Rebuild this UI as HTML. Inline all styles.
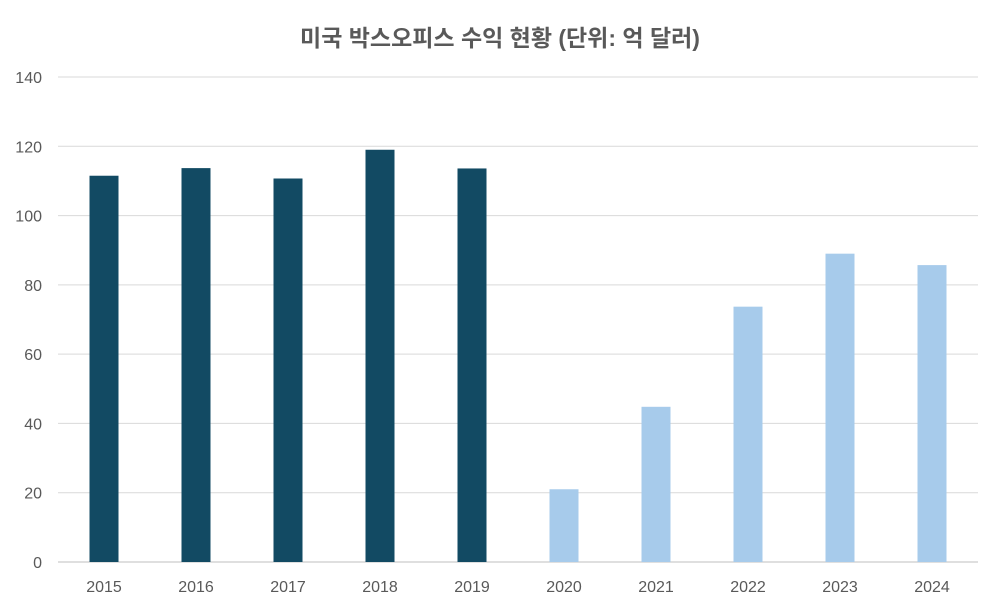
<!DOCTYPE html>
<html><head><meta charset="utf-8"><style>
body{margin:0;background:#fff;}
svg text{font-family:"Liberation Sans","Noto Sans CJK KR",sans-serif;}
</style></head><body>
<svg width="1000" height="610" id="chart">
<text x="500" y="46" text-anchor="middle" font-size="23" font-weight="bold" fill="#595959">미국 박스오피스 수익 현황 (단위: 억 달러)</text>
<g id="grid"></g><g id="bars"></g><g id="labels"></g>
</svg>
<script>
const categories=["2015","2016","2017","2018","2019","2020","2021","2022","2023","2024"];
const revenue=[111.5,113.7,110.7,119,113.6,21,44.8,73.7,89,85.7];
const yTicks=[0,20,40,60,80,100,120,140];
const ns="http://www.w3.org/2000/svg";
const L=58,R=978,T=77,B=562,ymax=140;
const y=v=>B-(v/ymax)*(B-T);
const step=(R-L)/categories.length;
const x=i=>L+step*(i+0.5);
const svg=document.getElementById('chart');
const g=document.getElementById('grid'),gb=document.getElementById('bars'),gl=document.getElementById('labels');
function mk(t,a){const e=document.createElementNS(ns,t);for(const k in a)e.setAttribute(k,a[k]);return e;}
yTicks.forEach(v=>{
 const ln=mk('line',{x1:L,x2:R,y1:y(v),y2:y(v),stroke:v===0?'#bfbfbf':'#d9d9d9','stroke-width':1});
 
 
 g.appendChild(ln);
 const t=mk('text',{x:42,y:y(v)+6,'text-anchor':'end','font-size':16,fill:'#595959'});
 t.textContent=v;
 
 
 gl.appendChild(t);
});
categories.forEach((c,i)=>{
 const w=29;
 const r=mk('rect',{x:x(i)-w/2,y:y(revenue[i]),width:w,height:B-y(revenue[i]),fill:i<5?'#124a63':'#a7cbeb'});
 
 
 gb.appendChild(r);
 const t=mk('text',{x:x(i),y:592,'text-anchor':'middle','font-size':16,fill:'#595959'});
 t.textContent=c;
 
 
 gl.appendChild(t);
});
</script>
</body></html>
